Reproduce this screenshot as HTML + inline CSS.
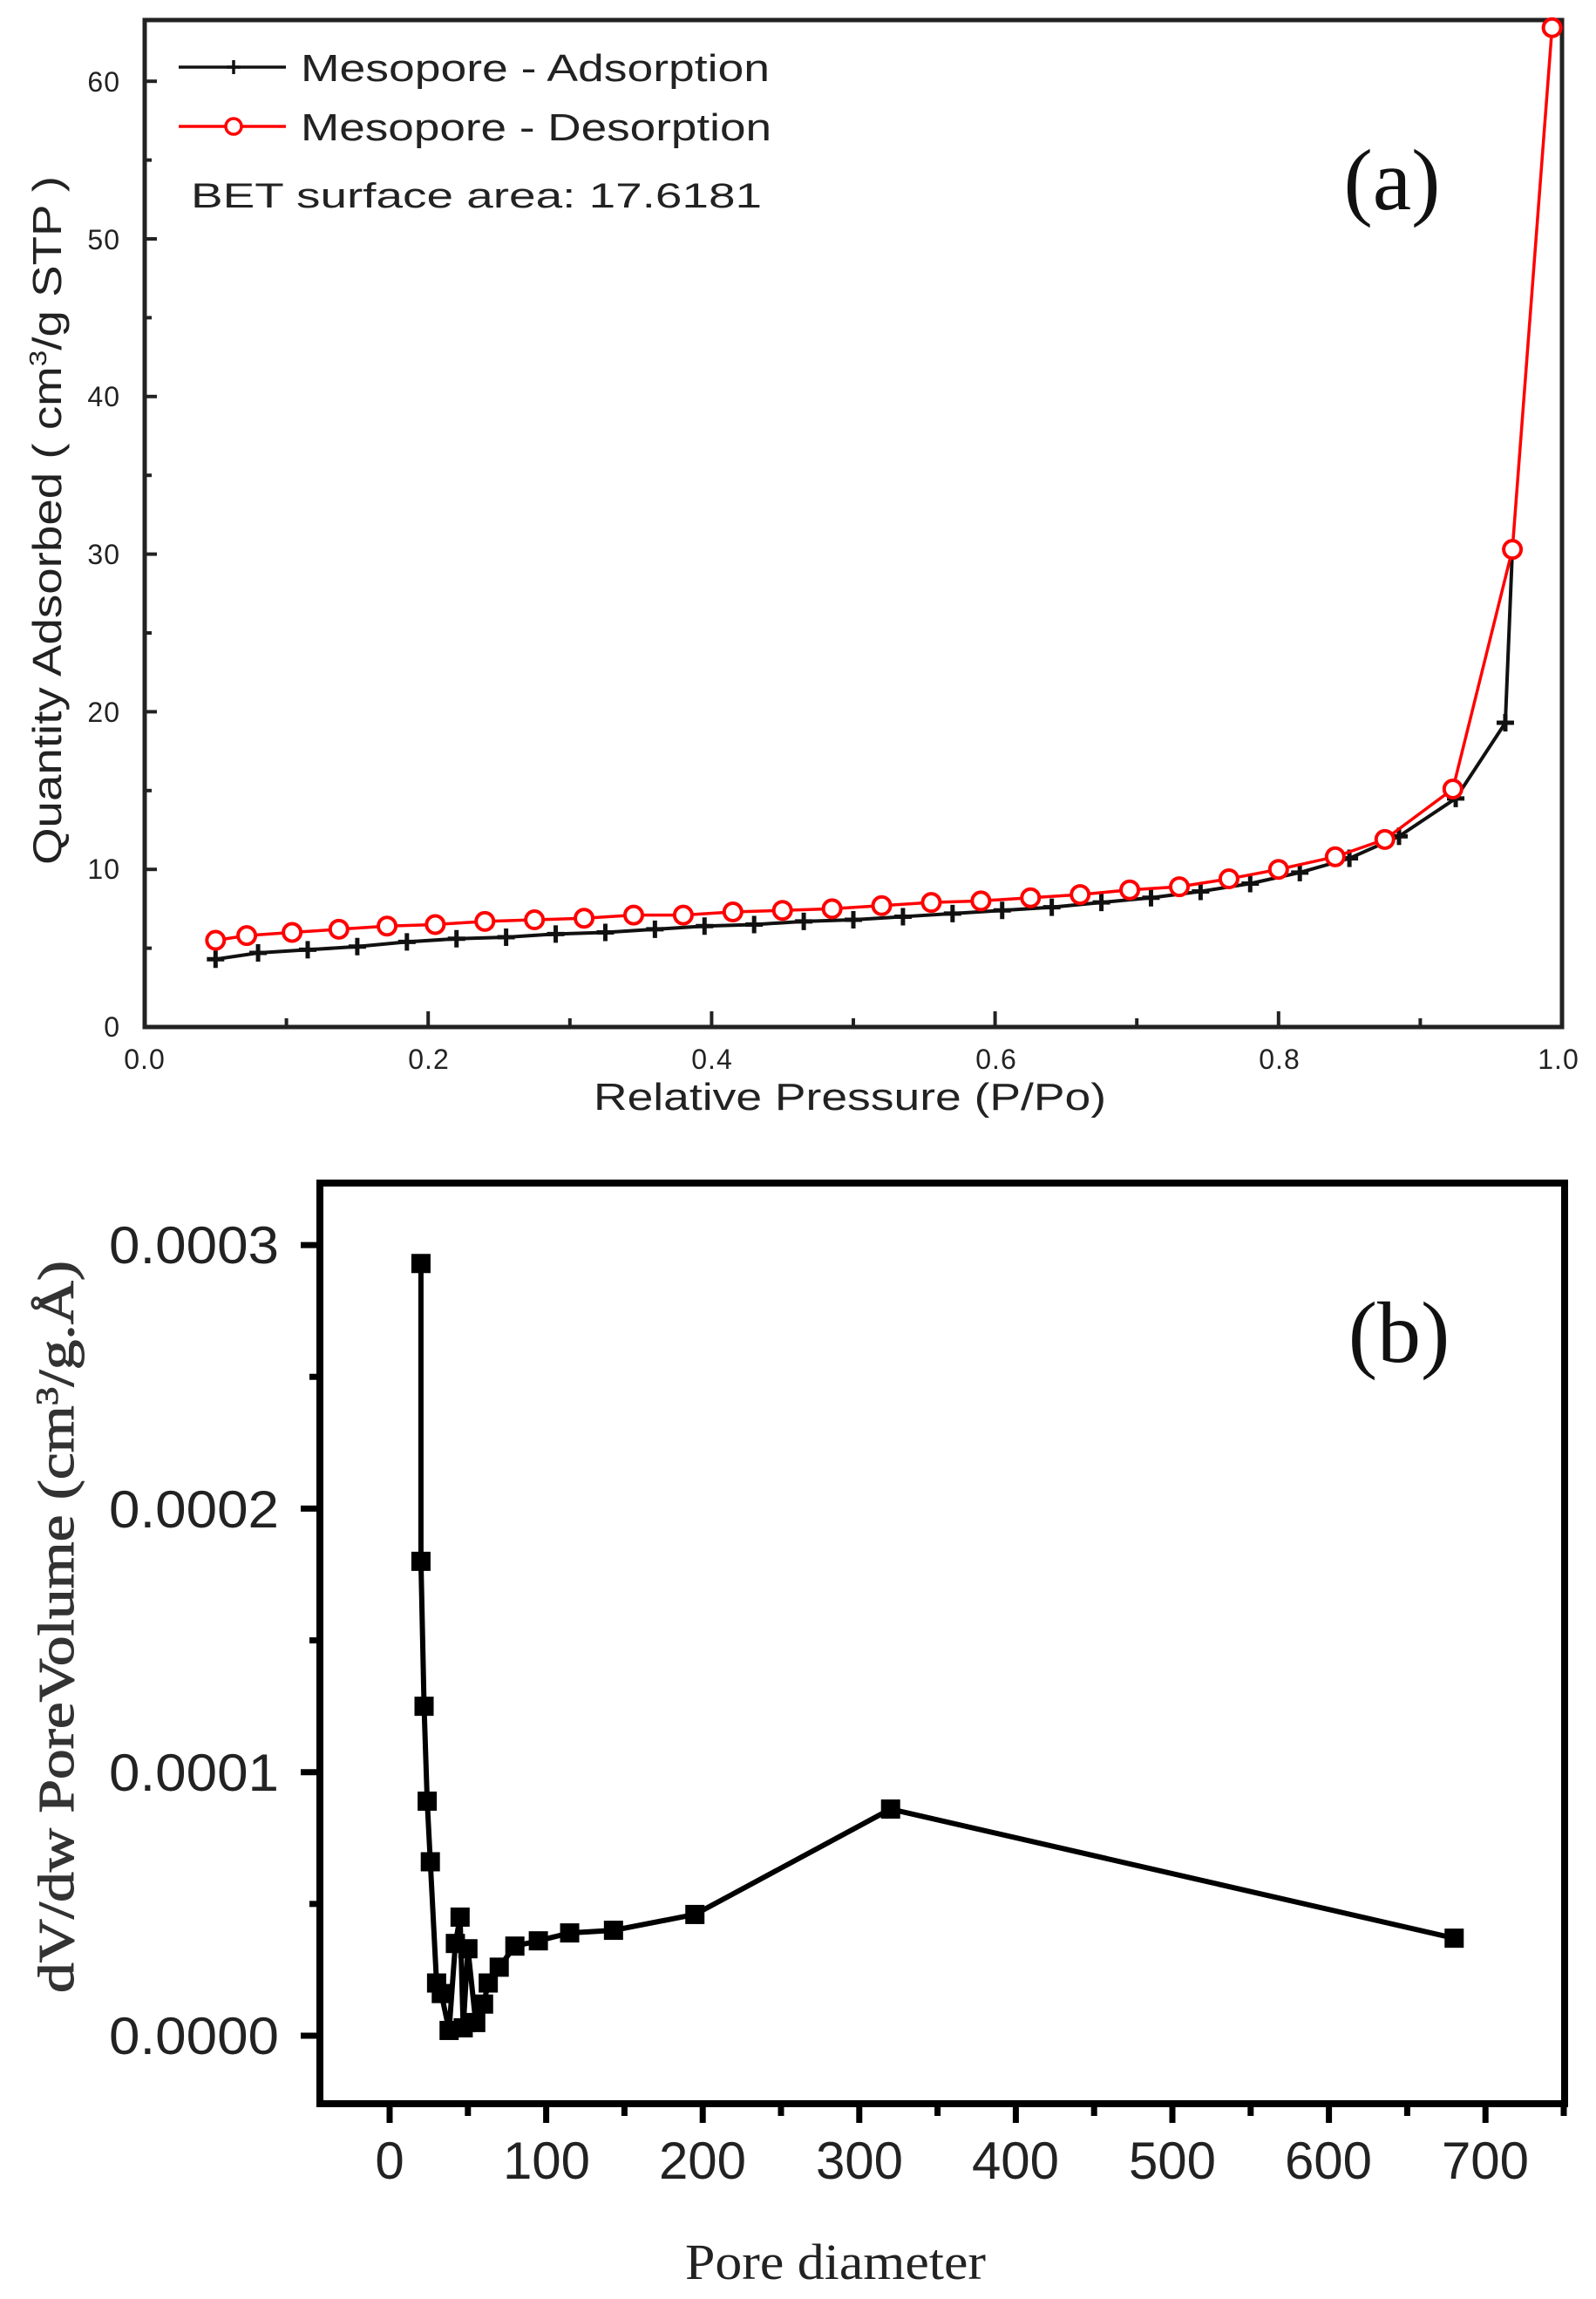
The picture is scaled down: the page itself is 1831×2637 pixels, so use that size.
<!DOCTYPE html>
<html><head><meta charset="utf-8"><style>
html,body{margin:0;padding:0;background:#fff;}
svg{display:block;}
.s{font-family:"Liberation Sans",Arial,sans-serif;}
.r{font-family:"Liberation Serif","Times New Roman",serif;}
</style></head><body>
<svg id="sv" width="1831" height="2637" viewBox="0 0 1831 2637" xmlns="http://www.w3.org/2000/svg">
<rect width="1831" height="2637" fill="#fff"/>
<rect x="166" y="23" width="1626" height="1155" fill="none" stroke="#222" stroke-width="5"/>
<g class="s" font-size="32" fill="#222" text-anchor="end" letter-spacing="1">
<text x="138" y="1189">0</text><text x="138" y="1008">10</text><text x="138" y="828">20</text>
<text x="138" y="647">30</text><text x="138" y="466">40</text><text x="138" y="286">50</text><text x="138" y="105">60</text>
</g>
<g class="s" font-size="32" fill="#222" text-anchor="middle" letter-spacing="1">
<text x="166" y="1226">0.0</text><text x="492" y="1226">0.2</text><text x="817" y="1226">0.4</text>
<text x="1143" y="1226">0.6</text><text x="1468" y="1226">0.8</text><text x="1788" y="1226">1.0</text>
</g>
<text class="s" x="681" y="1273" font-size="44" fill="#222" textLength="588" lengthAdjust="spacingAndGlyphs">Relative Pressure (P/Po)</text>
<text class="s" transform="translate(70,597) rotate(-90)" x="-395" y="0" font-size="46" fill="#222" textLength="790" lengthAdjust="spacingAndGlyphs">Quantity Adsorbed ( cm<tspan dy="-17" font-size="28">3</tspan><tspan dy="17">/g STP )</tspan></text>
<line x1="205" y1="77" x2="328" y2="77" stroke="#111" stroke-width="3.5"/>
<path d="M268 69V85M260 77H276" stroke="#111" stroke-width="3.5"/>
<text class="s" x="345" y="93" font-size="44" fill="#222" textLength="538" lengthAdjust="spacingAndGlyphs">Mesopore - Adsorption</text>
<line x1="205" y1="145" x2="328" y2="145" stroke="red" stroke-width="3.5"/>
<circle cx="268" cy="145" r="9" fill="#fff" stroke="red" stroke-width="3.5"/>
<text class="s" x="345" y="161" font-size="44" fill="#222" textLength="540" lengthAdjust="spacingAndGlyphs">Mesopore - Desorption</text>
<text class="s" x="219" y="238" font-size="40" fill="#222" textLength="655" lengthAdjust="spacingAndGlyphs">BET surface area:  17.6181</text>
<text class="r" x="1597" y="240" font-size="100" fill="#111" text-anchor="middle">(a)</text>
<g id="ga"></g>
<rect x="367" y="1357" width="1428" height="1056" fill="none" stroke="#000" stroke-width="8"/>
<g class="s" font-size="60" fill="#222" text-anchor="end">
<text x="320" y="2356" textLength="195" lengthAdjust="spacingAndGlyphs">0.0000</text><text x="320" y="2054" textLength="195" lengthAdjust="spacingAndGlyphs">0.0001</text>
<text x="320" y="1752" textLength="195" lengthAdjust="spacingAndGlyphs">0.0002</text><text x="320" y="1449" textLength="195" lengthAdjust="spacingAndGlyphs">0.0003</text>
</g>
<g class="s" font-size="60" fill="#222" text-anchor="middle">
<text x="447" y="2499">0</text><text x="627" y="2499">100</text><text x="806" y="2499">200</text>
<text x="986" y="2499">300</text><text x="1165" y="2499">400</text><text x="1345" y="2499">500</text>
<text x="1524" y="2499">600</text><text x="1704" y="2499">700</text>
</g>
<text class="r" x="786" y="2614" font-size="58" fill="#222" textLength="345" lengthAdjust="spacingAndGlyphs">Pore diameter</text>
<text class="r" transform="translate(84,1866) rotate(-90)" x="-420" y="0" font-size="58" fill="#333" stroke="#333" stroke-width="1" textLength="840" lengthAdjust="spacingAndGlyphs">dV/dw PoreVolume (cm<tspan dy="-18" font-size="36">3</tspan><tspan dy="18">/g.Å)</tspan></text>
<text class="r" x="1605" y="1562" font-size="100" fill="#111" text-anchor="middle">(b)</text>
<g id="gb"></g>
</svg>
<script>
var NS="http://www.w3.org/2000/svg";
function el(p,t,a){var e=document.createElementNS(NS,t);for(var k in a)e.setAttribute(k,a[k]);p.appendChild(e);return e;}
var ga=document.getElementById('ga'),gb=document.getElementById('gb');
function ax(x){return 166+x*1626;} function ay(y){return 1178-y*18.08;}
for(var i=1;i<10;i++){el(ga,'line',{x1:ax(i/10),y1:1178,x2:ax(i/10),y2:1178-(i%2?10:18),stroke:'#222','stroke-width':4});}
for(var i=1;i<13;i++){el(ga,'line',{x1:166,y1:ay(i*5),x2:166+(i%2?8:14),y2:ay(i*5),stroke:'#222','stroke-width':4});}
var ad=[[.05,4.3],[.08,4.7],[.115,4.9],[.15,5.1],[.185,5.4],[.22,5.6],[.255,5.7],[.29,5.9],[.325,6.0],[.36,6.2],[.395,6.4],[.43,6.5],[.465,6.7],[.5,6.8],[.535,7.0],[.57,7.2],[.605,7.4],[.64,7.6],[.675,7.9],[.71,8.2],[.745,8.6],[.78,9.1],[.815,9.8],[.85,10.7],[.885,12.1],[.925,14.5],[.96,19.3]];
var de=[[.05,5.5],[.072,5.8],[.104,6.0],[.137,6.2],[.171,6.4],[.205,6.5],[.24,6.7],[.275,6.8],[.31,6.9],[.345,7.1],[.38,7.1],[.415,7.3],[.45,7.4],[.485,7.5],[.52,7.7],[.555,7.9],[.59,8.0],[.625,8.2],[.66,8.4],[.695,8.7],[.73,8.9],[.765,9.4],[.8,10.0],[.84,10.8],[.875,11.9],[.923,15.1],[.965,30.3],[.993,63.4]];
var p='';ad.concat([[.965,30.3]]).forEach(function(d,i){p+=(i?'L':'M')+ax(d[0])+' '+ay(d[1]);});
el(ga,'path',{d:p,fill:'none',stroke:'#111','stroke-width':4});
ad.forEach(function(d){var x=ax(d[0]),y=ay(d[1]);el(ga,'path',{d:'M'+x+' '+(y-10)+'V'+(y+10)+'M'+(x-10)+' '+y+'H'+(x+10),stroke:'#111','stroke-width':5});});
p='';de.forEach(function(d,i){p+=(i?'L':'M')+ax(d[0])+' '+ay(d[1]);});
el(ga,'path',{d:p,fill:'none',stroke:'red','stroke-width':3.5});
de.forEach(function(d){el(ga,'circle',{cx:ax(d[0]),cy:ay(d[1]),r:10,fill:'#fff',stroke:'red','stroke-width':4});});
function bx(x){return 447+x*1.796;} function by(y){return 2335-y*302.3;}
for(var v=-50;v<=750;v+=50){var X=bx(v);if(X>367&&X<1795)el(gb,'line',{x1:X,y1:2413,x2:X,y2:2413+(v%100?14:22),stroke:'#000','stroke-width':7});}
for(var v=0;v<=3;v+=0.5){el(gb,'line',{x1:367,y1:by(v),x2:367-(v%1?12:22),y2:by(v),stroke:'#000','stroke-width':7});}
var bd=[[20,2.93],[20,1.8],[22,1.25],[24,.89],[26,.66],[30,.2],[33,.16],[38,.02],[42,.35],[45,.45],[47,.03],[50,.33],[55,.05],[60,.12],[63,.2],[70,.26],[80,.34],[95,.36],[115,.39],[143,.4],[195,.46],[320,.86],[680,.37]];
p='';bd.forEach(function(d,i){p+=(i?'L':'M')+bx(d[0])+' '+by(d[1]);});
el(gb,'path',{d:p,fill:'none',stroke:'#000','stroke-width':6});
bd.forEach(function(d){el(gb,'rect',{x:bx(d[0])-11,y:by(d[1])-11,width:22,height:22,fill:'#000'});});
</script>
</body></html>
